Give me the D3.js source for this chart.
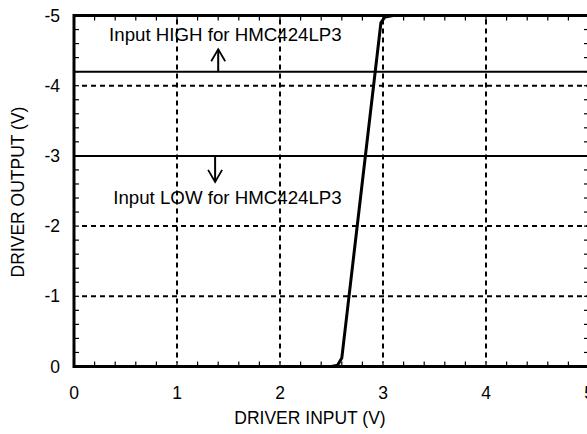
<!DOCTYPE html>
<html>
<head>
<meta charset="utf-8">
<script src="https://cdn.jsdelivr.net/npm/d3@7"></script>
<style>
  body { margin: 0; background: #fff; }
  text { font-family: "Liberation Sans", Arial, sans-serif; fill: #000; }
</style>
</head>
<body>
<svg id="chart"></svg>
<script>
// axis values
const xTicks = [0, 1, 2, 3, 4, 5];
const yTicks = [0, -1, -2, -3, -4, -5];
const xGrid = [1, 2, 3, 4];
const yGrid = [-1, -2, -3, -4];

// transfer curve
const curveIn  = [0, 2.50, 2.56, 2.60, 2.98, 3.02, 3.10, 5];
const curveOut = [0, 0, -0.02, -0.12, -4.90, -4.98, -5.0, -5.0];

// threshold lines and their notes
const thresholds = [-4.2, -3.0];
const noteText = ["Input HIGH for HMC424LP3", "Input LOW for HMC424LP3"];
const noteX = [1.47, 1.49];
const noteY = [-4.63, -2.31];
const arrowX = [1.40, 1.37];
const arrowFrom = [-4.2, -3.0];
const arrowTo = [-4.52, -2.63];

const svgWidth = 587, svgHeight = 434;
const fontSize = 17.5;

const chart = d3.select("#chart")
    .attr("width", svgWidth)
    .attr("height", svgHeight);

var xScale = d3.scaleLinear().domain([0, 5]).range([74, 589]);
var yScale = d3.scaleLinear().domain([0, -5]).range([366.5, 15.5]);

const minorX = d3.range(0, 5.001, 0.2);
const minorY = d3.range(0, -5.001, -0.2);

// dashed grid
chart.append("g").selectAll("line")
    .data(xGrid).enter().append("line")
    .attr("x1", d => xScale(d)).attr("x2", d => xScale(d))
    .attr("y1", yScale(-5) + 4).attr("y2", yScale(0) - 4)
    .attr("stroke", "#000").attr("stroke-width", 2)
    .attr("stroke-dasharray", "5,4");

chart.append("g").selectAll("line")
    .data(yGrid).enter().append("line")
    .attr("x1", xScale(0) + 8).attr("x2", xScale(5))
    .attr("y1", d => yScale(d)).attr("y2", d => yScale(d))
    .attr("stroke", "#000").attr("stroke-width", 2)
    .attr("stroke-dasharray", "5,4");

// threshold lines
chart.append("g").selectAll("line")
    .data(thresholds).enter().append("line")
    .attr("x1", xScale(0)).attr("x2", xScale(5))
    .attr("y1", d => yScale(d)).attr("y2", d => yScale(d))
    .attr("stroke", "#000").attr("stroke-width", 2);

// minor ticks
const ticks = chart.append("g").attr("stroke", "#000").attr("stroke-width", 1.2);
minorX.forEach(v => {
    ticks.append("line").attr("x1", xScale(v)).attr("x2", xScale(v))
        .attr("y1", yScale(0)).attr("y2", yScale(0) - 5);
    ticks.append("line").attr("x1", xScale(v)).attr("x2", xScale(v))
        .attr("y1", yScale(-5)).attr("y2", yScale(-5) + 5);
});
minorY.forEach(v => {
    ticks.append("line").attr("x1", xScale(0)).attr("x2", xScale(0) + 5)
        .attr("y1", yScale(v)).attr("y2", yScale(v));
    ticks.append("line").attr("x1", xScale(5)).attr("x2", xScale(5) - 5)
        .attr("y1", yScale(v)).attr("y2", yScale(v));
});

// curve
var valueline = d3.line()
    .x(d => xScale(d[0]))
    .y(d => yScale(d[1]))
    .curve(d3.curveLinear);

chart.append("path")
    .datum(curveIn.map((x, i) => [x, curveOut[i]]))
    .attr("d", valueline)
    .attr("fill", "none")
    .attr("stroke", "#000")
    .attr("stroke-width", 3)
    .attr("stroke-linejoin", "round");

// frame
chart.append("rect")
    .attr("x", xScale(0)).attr("y", yScale(-5))
    .attr("width", xScale(5) - xScale(0))
    .attr("height", yScale(0) - yScale(-5))
    .attr("fill", "none").attr("stroke", "#000").attr("stroke-width", 3);

// arrows
arrowX.forEach((ax, i) => {
    const x = xScale(ax), y1 = yScale(arrowFrom[i]), y2 = yScale(arrowTo[i]);
    const dir = y2 < y1 ? 1 : -1;
    chart.append("line").attr("x1", x).attr("x2", x).attr("y1", y1).attr("y2", y2)
        .attr("stroke", "#000").attr("stroke-width", 2);
    chart.append("path")
        .attr("d", `M${x - 7},${y2 + dir * 12} L${x},${y2} L${x + 7},${y2 + dir * 12}`)
        .attr("fill", "none").attr("stroke", "#000").attr("stroke-width", 1.8);
});

// notes
chart.append("g").selectAll("text")
    .data(noteText).enter().append("text")
    .attr("x", (d, i) => xScale(noteX[i]))
    .attr("y", (d, i) => yScale(noteY[i]))
    .attr("text-anchor", "middle")
    .attr("font-size", 18.7)
    .text(d => d);

// tick labels
chart.append("g").selectAll("text")
    .data(xTicks).enter().append("text")
    .attr("x", d => xScale(d))
    .attr("y", 399)
    .attr("text-anchor", "middle")
    .attr("font-size", fontSize)
    .text(d => d);

chart.append("g").selectAll("text")
    .data(yTicks).enter().append("text")
    .attr("x", 60)
    .attr("y", d => yScale(d) + 6)
    .attr("text-anchor", "end")
    .attr("font-size", fontSize)
    .text(d => d === 0 ? "0" : "-" + Math.abs(d));

// axis titles
chart.append("text")
    .attr("x", 310).attr("y", 424)
    .attr("text-anchor", "middle")
    .attr("font-size", fontSize)
    .text("DRIVER INPUT (V)");

chart.append("text")
    .attr("transform", "translate(24,192) rotate(-90)")
    .attr("text-anchor", "middle")
    .attr("font-size", fontSize)
    .text("DRIVER OUTPUT (V)");
</script>
</body>
</html>
